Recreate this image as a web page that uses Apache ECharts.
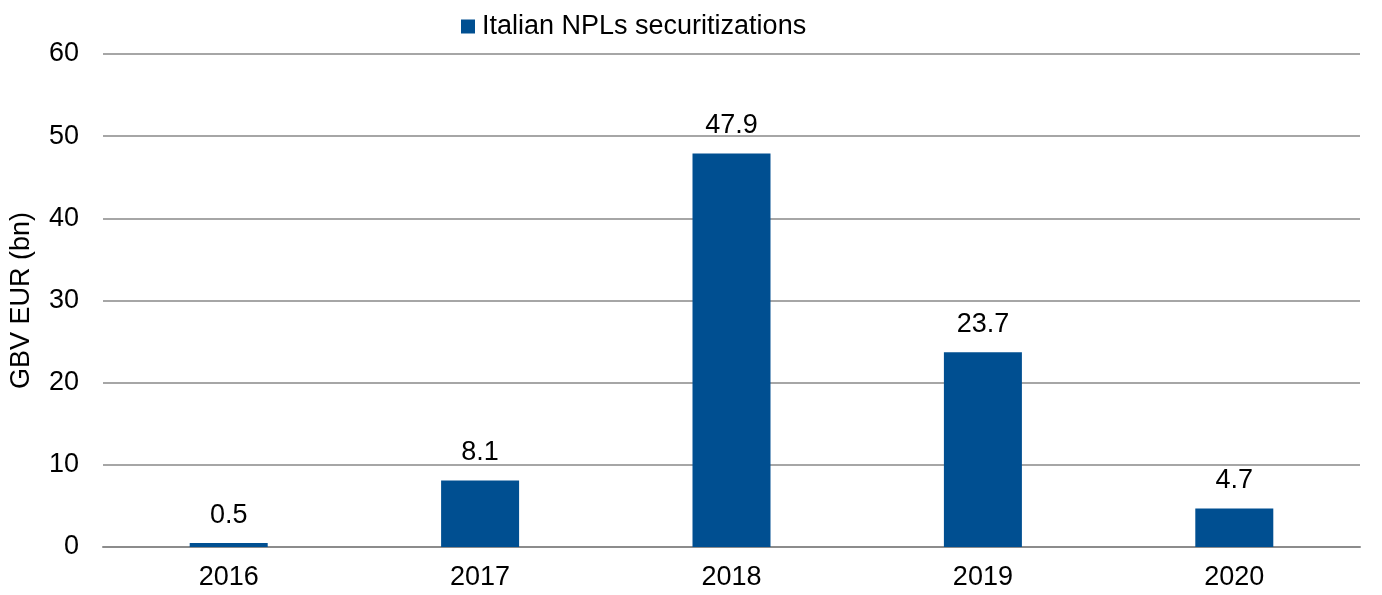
<!DOCTYPE html>
<html>
<head>
<meta charset="utf-8">
<script src="https://cdn.jsdelivr.net/npm/echarts@6/dist/echarts.min.js"></script>
<style>
  html, body { margin: 0; padding: 0; background: #fff; }
  #chart { width: 1382px; height: 595px; }
</style>
</head>
<body>
<div id="chart"></div>
<script>
// Italian NPL securitizations, gross book value in EUR bn
const years = ['2016', '2017', '2018', '2019', '2020'];
const gbvValues = [0.5, 8.1, 47.9, 23.7, 4.7];
const seriesName = 'Italian NPLs securitizations';
const yAxisTitle = 'GBV EUR (bn)';

const chart = echarts.init(document.getElementById('chart'), null, { renderer: 'canvas' });
const font = 'Liberation Sans, Arial, sans-serif';
const fs = 27;

chart.setOption({
  animation: false,
  textStyle: { fontFamily: font },
  legend: {
    data: [seriesName],
    top: 8,
    left: 456,
    icon: 'rect',
    itemWidth: 14,
    itemHeight: 14,
    itemGap: 8,
    textStyle: { fontSize: fs, color: '#000', fontFamily: font, padding: [0, 0, 0, 2] }
  },
  grid: { left: 103, right: 22, top: 54, bottom: 48, containLabel: false },
  xAxis: {
    type: 'category',
    data: years,
    axisLine: { lineStyle: { color: '#8c8c8c', width: 2 } },
    axisTick: { show: false },
    axisLabel: { fontSize: fs, color: '#000', margin: 17, fontFamily: font }
  },
  yAxis: {
    type: 'value',
    min: 0,
    max: 60,
    interval: 10,
    name: yAxisTitle,
    nameLocation: 'middle',
    nameGap: 68,
    nameRotate: 90,
    nameTextStyle: { fontSize: fs, color: '#000', fontFamily: font },
    axisLine: { show: false },
    axisTick: { show: false },
    axisLabel: { fontSize: fs, color: '#000', margin: 24, fontFamily: font },
    splitLine: { lineStyle: { color: '#a6a6a6', width: 2 } }
  },
  series: [{
    name: seriesName,
    type: 'bar',
    data: gbvValues,
    barWidth: 78,
    itemStyle: { color: '#004f91' },
    label: {
      show: true,
      position: 'top',
      distance: 14,
      fontSize: fs,
      color: '#000',
      fontFamily: font,
      formatter: p => p.value.toFixed(1)
    }
  }]
});
</script>
</body>
</html>
